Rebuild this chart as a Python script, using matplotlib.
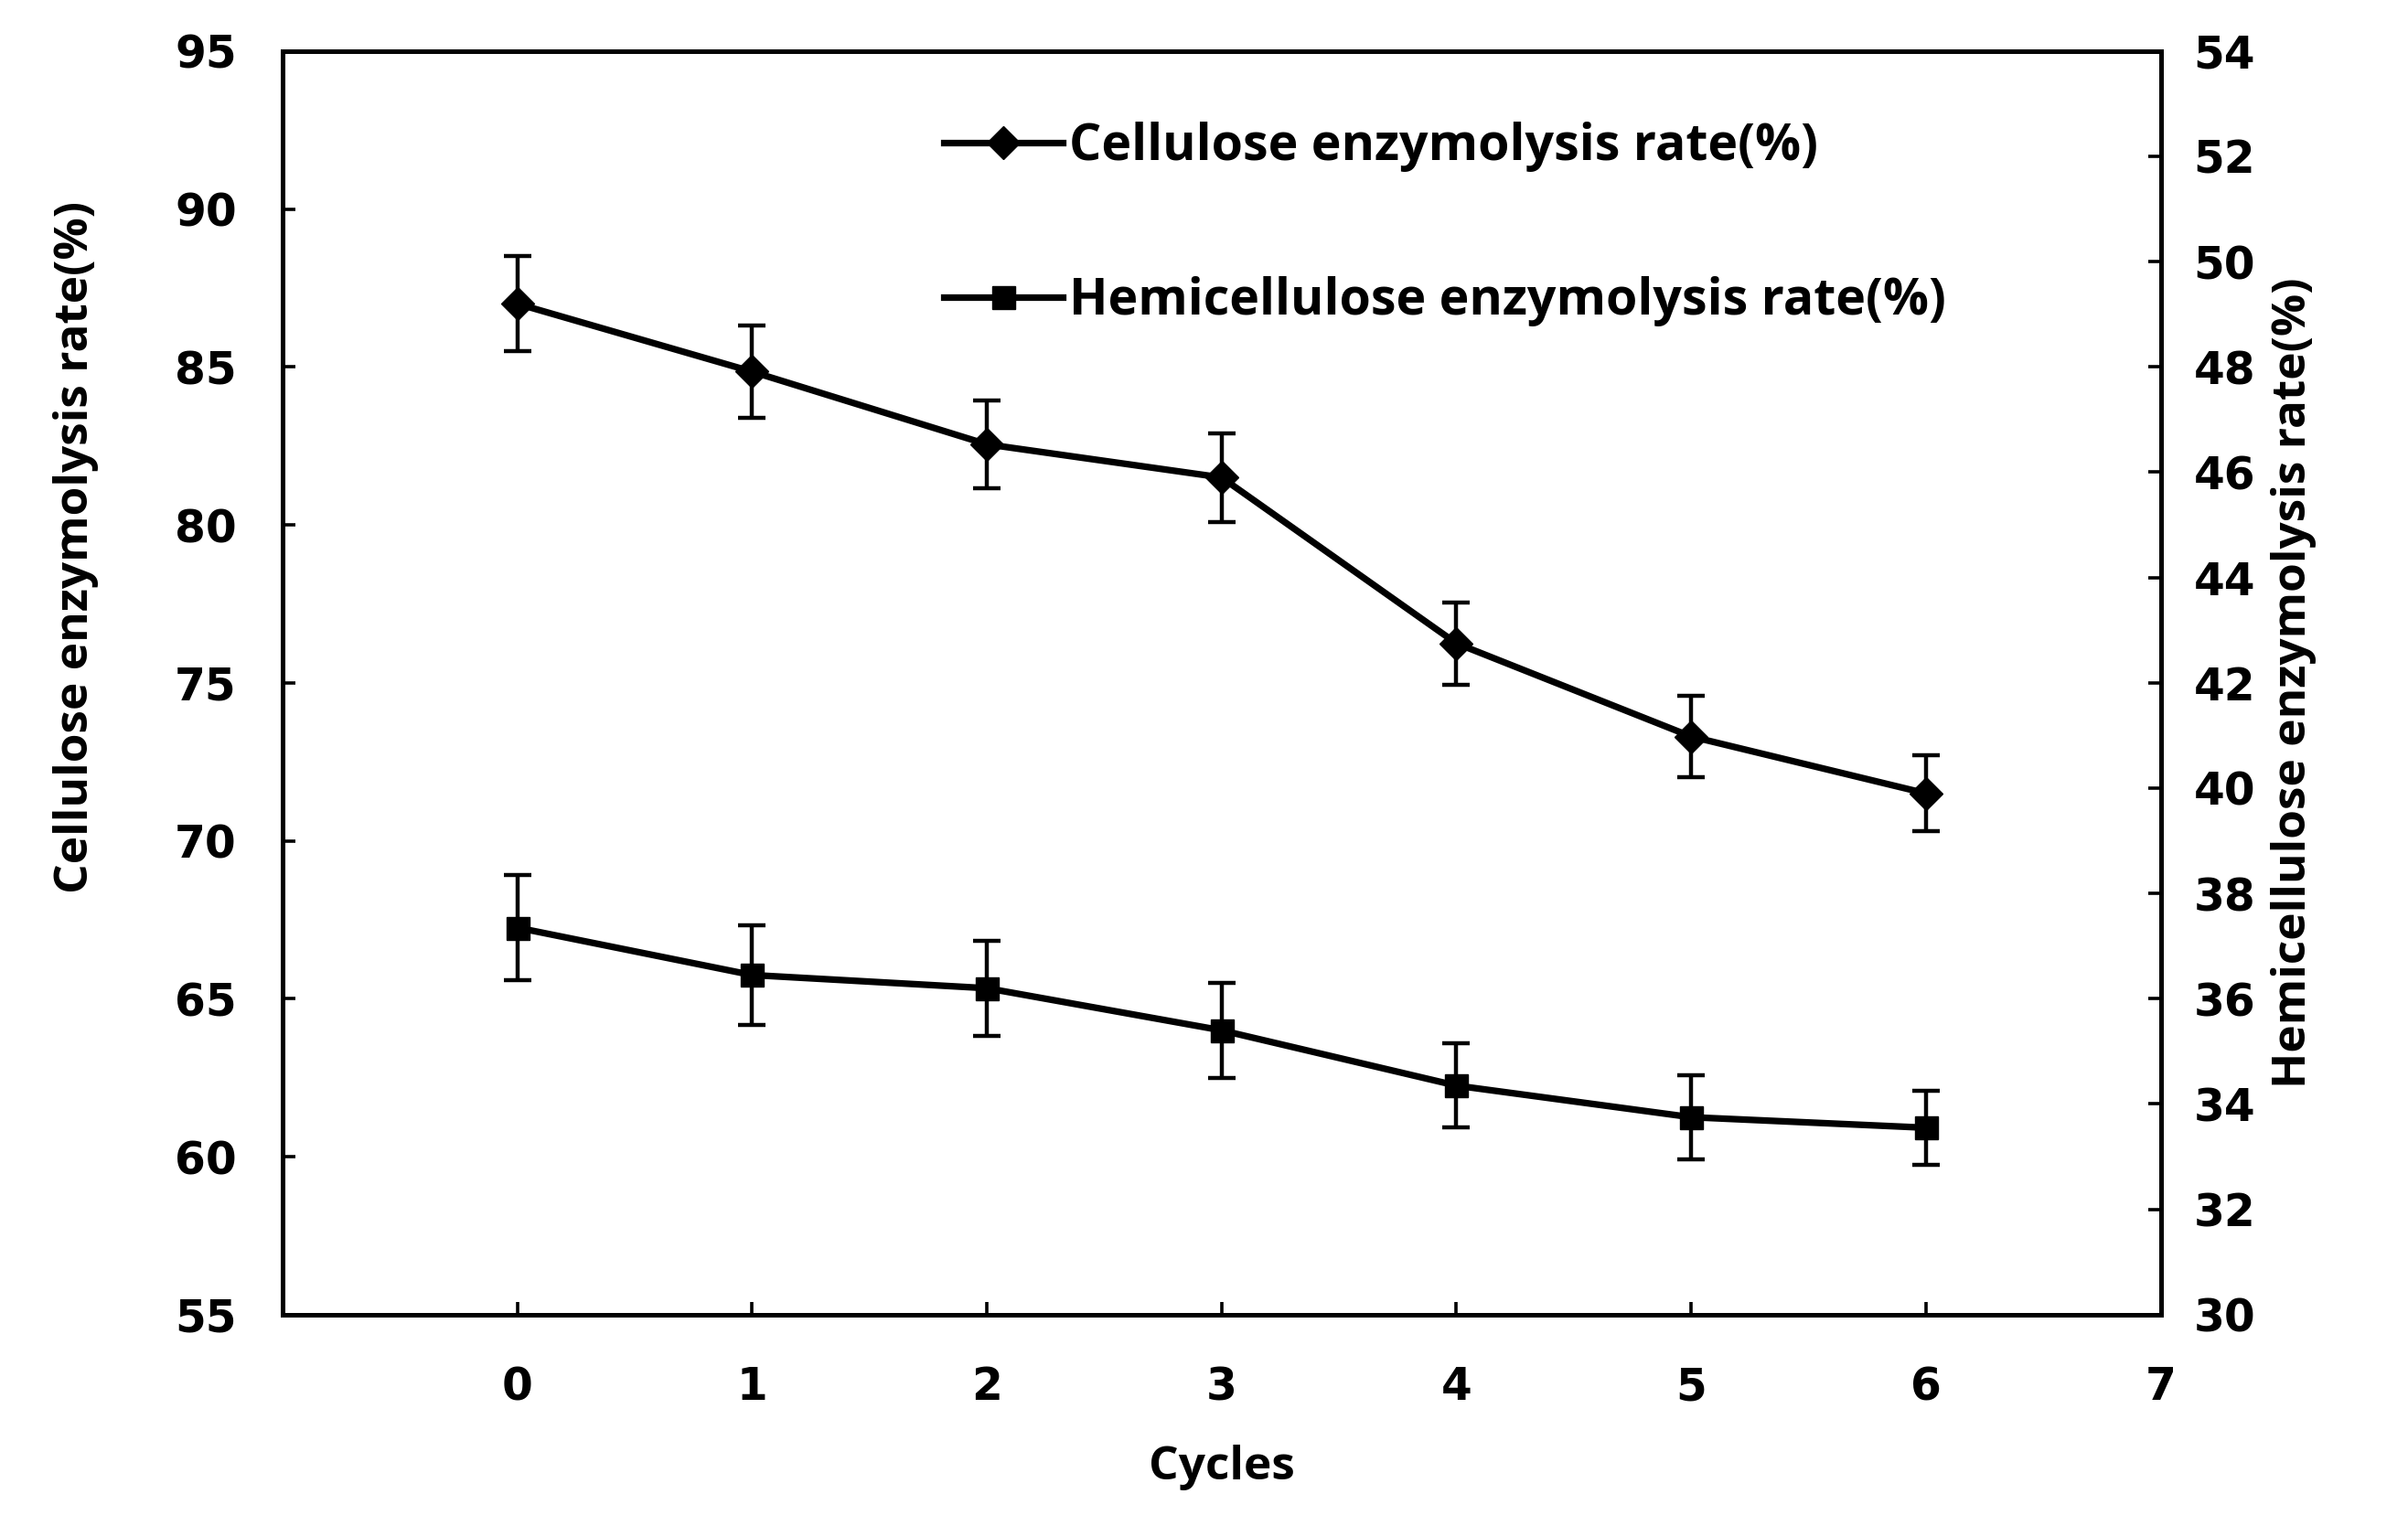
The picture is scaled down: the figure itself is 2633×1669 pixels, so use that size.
import matplotlib
matplotlib.use("Agg")
import matplotlib.pyplot as plt
from matplotlib import font_manager

_available = {f.name for f in font_manager.fontManager.ttflist}
FONT = next((f for f in ("Open Sans", "Lato", "Noto Sans") if f in _available), "DejaVu Sans")
plt.rcParams["font.family"] = [FONT, "DejaVu Sans"]
plt.rcParams["font.weight"] = "bold"

cycles = [0, 1, 2, 3, 4, 5, 6]
cellulose = [87.0, 84.85, 82.55, 81.5, 76.25, 73.3, 71.5]
cellulose_err = [1.5, 1.45, 1.4, 1.4, 1.3, 1.3, 1.2]
hemicellulose = [37.35, 36.45, 36.2, 35.4, 34.35, 33.75, 33.55]
hemicellulose_err = [1.0, 0.95, 0.9, 0.9, 0.8, 0.8, 0.7]

x_ticks = [0, 1, 2, 3, 4, 5, 6, 7]
left_ticks = [55, 60, 65, 70, 75, 80, 85, 90, 95]
right_ticks = [30, 32, 34, 36, 38, 40, 42, 44, 46, 48, 50, 52, 54]

FS = 37
TICK_FS = 35
LW = 5.2

fig = plt.figure(figsize=(26.33, 16.69), dpi=100)
ax = fig.add_axes([0.1173, 0.1385, 0.7800, 0.8281])
ax2 = ax.twinx()

style = dict(color="black", lw=LW, markersize=18, elinewidth=3.2,
             capsize=11, capthick=3.2)
l1 = ax.errorbar(cycles, cellulose, yerr=cellulose_err, marker="D",
                 label="Cellulose enzymolysis rate(%)", **style)
l2 = ax2.errorbar(cycles, hemicellulose, yerr=hemicellulose_err, marker="s",
                  label="Hemicellulose enzymolysis rate(%)", **style)

ax.set_xlim(-1, 7)
ax.set_ylim(55, 95)
ax2.set_ylim(30, 54)
ax.set_xticks(x_ticks)
ax.set_yticks(left_ticks)
ax2.set_yticks(right_ticks)

for a in (ax, ax2):
    for s in a.spines.values():
        s.set_linewidth(3.6)
    a.tick_params(direction="in", length=10, width=2.6, labelsize=TICK_FS)
    for lab in a.get_xticklabels() + a.get_yticklabels():
        lab.set_fontfamily("DejaVu Sans")
        lab.set_fontweight("bold")
ax.tick_params(axis="x", pad=40)
ax.tick_params(axis="y", pad=36)
ax2.tick_params(axis="y", pad=26)

ax.set_xlabel("Cycles", fontsize=FS, fontweight="bold", labelpad=28)
ax.set_ylabel("Cellulose enzymolysis rate(%)", fontsize=FS, fontweight="bold")
ax.yaxis.set_label_coords(-0.098, 0.607)
ax2.set_ylabel("Hemicellulose enzymolysis rate(%)", fontsize=FS, fontweight="bold", labelpad=12)

ax.legend(handles=[l1[0], l2[0]], labels=[l1.get_label(), l2.get_label()],
          loc="upper left", bbox_to_anchor=(0.352, 0.944), frameon=False,
          borderpad=0, borderaxespad=0, labelspacing=2.05,
          handlelength=2.35, handletextpad=0.12,
          prop={"size": 40, "weight": "bold"})

fig.savefig("out.png", dpi=100)
